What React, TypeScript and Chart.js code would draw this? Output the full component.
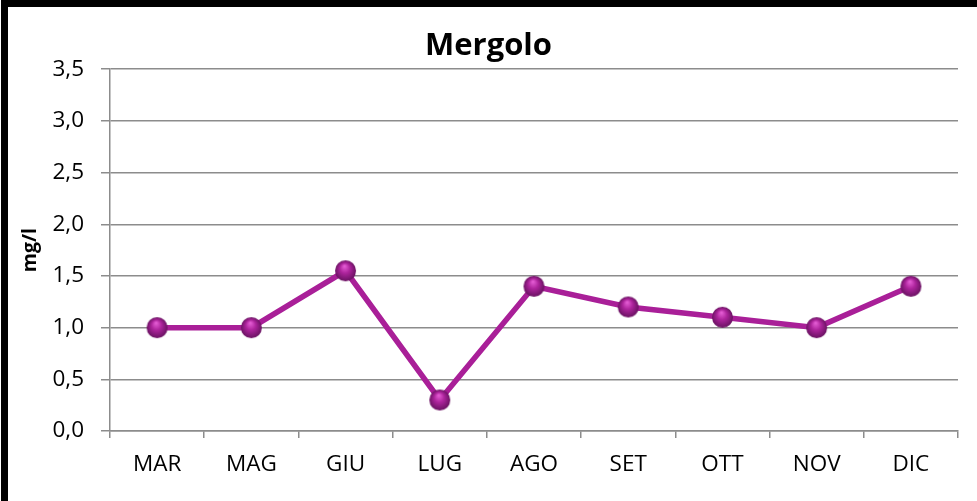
import React, { useEffect, useRef } from "react";
import { Chart, registerables } from "chart.js";

Chart.register(...registerables);

const months = ["MAR", "MAG", "GIU", "LUG", "AGO", "SET", "OTT", "NOV", "DIC"];
const mergoloValues = [1.0, 1.0, 1.55, 0.3, 1.4, 1.2, 1.1, 1.0, 1.4];
const yTickValues = [0, 0.5, 1.0, 1.5, 2.0, 2.5, 3.0, 3.5];
const yTickLabels = ["0,0", "0,5", "1,0", "1,5", "2,0", "2,5", "3,0", "3,5"];
const chartTitle = "Mergolo";
const yAxisTitle = "mg/l";

const FONT = "'Open Sans', 'Liberation Sans', sans-serif";

function makeSphere(r: number): HTMLCanvasElement {
  const c = document.createElement("canvas");
  const s = r * 2 + 2;
  c.width = s;
  c.height = s;
  const ctx = c.getContext("2d")!;
  const cx = s / 2;
  const g = ctx.createRadialGradient(cx - r * 0.1, cx - r * 0.45, r * 0.05, cx, cx, r);
  g.addColorStop(0, "#e35bd3");
  g.addColorStop(0.45, "#ad249c");
  g.addColorStop(1, "#6a1262");
  ctx.fillStyle = g;
  ctx.beginPath();
  ctx.arc(cx, cx, r, 0, Math.PI * 2);
  ctx.fill();
  return c;
}

export default function App() {
  const ref = useRef<HTMLCanvasElement | null>(null);

  useEffect(() => {
    document.body.style.margin = "0";
    const canvas = ref.current!;
    const sphere = makeSphere(10.5);
    const chart = new Chart(canvas, {
      type: "line",
      data: {
        labels: months,
        datasets: [
          {
            label: chartTitle,
            data: mergoloValues,
            borderColor: "#a91f98",
            borderWidth: 5.5,
            pointStyle: sphere as any,
            pointRadius: 10.5,
            pointHoverRadius: 10.5,
            tension: 0,
          },
        ],
      },
      options: {
        animation: false,
        responsive: false,
        maintainAspectRatio: false,
        layout: { padding: { left: 19, right: 19, top: 8, bottom: 0 } },
        plugins: {
          legend: { display: false },
          tooltip: { enabled: false },
          title: {
            display: true,
            text: chartTitle,
            color: "#000",
            font: { family: FONT, size: 31, weight: "bold" },
            padding: { top: 20, bottom: 4 },
          },
        },
        scales: {
          x: {
            type: "category",
            offset: true,
            grid: {
              offset: true,
              drawOnChartArea: false,
              drawTicks: true,
              tickLength: 7,
              color: "#8c8c8c",
              lineWidth: 1.5,
            },
            border: { display: true, color: "#8c8c8c", width: 1.5 },
            ticks: {
              color: "#000",
              font: { family: FONT, size: 22.5 },
              padding: 13,
              maxRotation: 0,
              autoSkip: false,
            },
            afterFit: (s: any) => {
              s.height = 70;
            },
          },
          y: {
            min: 0,
            max: 3.5,
            afterBuildTicks: (s: any) => {
              s.ticks = yTickValues.map((v) => ({ value: v }));
            },
            grid: {
              color: "#8c8c8c",
              lineWidth: 1.5,
              drawTicks: true,
              tickLength: 9,
            },
            border: { display: true, color: "#8c8c8c", width: 1.5 },
            ticks: {
              color: "#000",
              font: { family: FONT, size: 22.5 },
              padding: 17,
              callback: (v: any) => {
                const i = yTickValues.indexOf(Number(v));
                return i >= 0 ? yTickLabels[i] : "";
              },
            },
            title: {
              display: true,
              text: yAxisTitle,
              color: "#000",
              font: { family: FONT, size: 19.5, weight: "bold" },
              padding: 0,
            },
            afterFit: (s: any) => {
              s.width = 91;
            },
          },
        },
      },
    });
    return () => chart.destroy();
  }, []);

  return (
    <div style={{ position: "relative", width: 977, height: 501, background: "#fff", overflow: "hidden" }}>
      <div style={{ position: "absolute", left: 1, top: 0, width: 976, height: 7, background: "#000" }} />
      <div style={{ position: "absolute", left: 1, top: 0, width: 7, height: 501, background: "#000" }} />
      <canvas ref={ref} width={977} height={501} style={{ position: "absolute", left: 0, top: 0, display: "block" }} />
    </div>
  );
}
